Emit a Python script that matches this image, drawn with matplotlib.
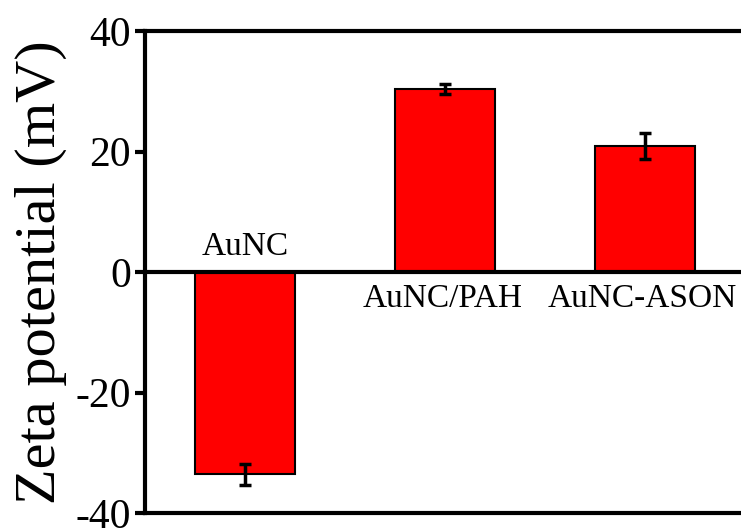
import matplotlib
matplotlib.use("Agg")
import matplotlib.pyplot as plt

samples = ["AuNC", "AuNC/PAH", "AuNC-ASON"]
zeta = [-33.6, 30.4, 20.9]
zeta_err = [1.75, 0.8, 2.1]

plt.rcParams["font.family"] = ["Liberation Serif", "DejaVu Serif"]
plt.rcParams["axes.unicode_minus"] = False

fig = plt.figure(figsize=(7.41, 5.29), dpi=100)
ax = fig.add_axes([145 / 741, 16 / 529, 1 - 145 / 741, 482 / 529])

xs = list(range(len(samples)))
ax.bar(xs, zeta, width=0.5, color="#ff0000", edgecolor="black", linewidth=1.5, zorder=2)
ax.errorbar(xs, zeta, yerr=zeta_err, fmt="none", ecolor="black",
            elinewidth=2.5, capsize=4.5, capthick=2.5, zorder=3)

ax.axhline(0, color="black", linewidth=3, zorder=4)

# sample names sit on the opposite side of the zero line from the bar
for x, name, v in zip(xs, samples, zeta):
    if v < 0:
        ax.annotate(name, xy=(x, 0), xytext=(0, 7), textcoords="offset points",
                    ha="center", va="bottom", fontsize=24)
    else:
        ax.annotate(name, xy=(x, 0), xytext=(-2, -8), textcoords="offset points",
                    ha="center", va="top", fontsize=24)

ax.set_xlim(-0.5, 2.48)
ax.set_ylim(-40, 40)
ax.set_yticks([-40, -20, 0, 20, 40])
ax.set_xticks([])
ax.tick_params(axis="y", direction="out", length=7, width=3, labelsize=30, pad=3)

for side in ["left", "top", "bottom"]:
    ax.spines[side].set_linewidth(3)
ax.spines["right"].set_visible(False)

ax.set_ylabel("Zeta potential (mV)", fontsize=42, labelpad=6)

fig.savefig("out.png", dpi=100)
